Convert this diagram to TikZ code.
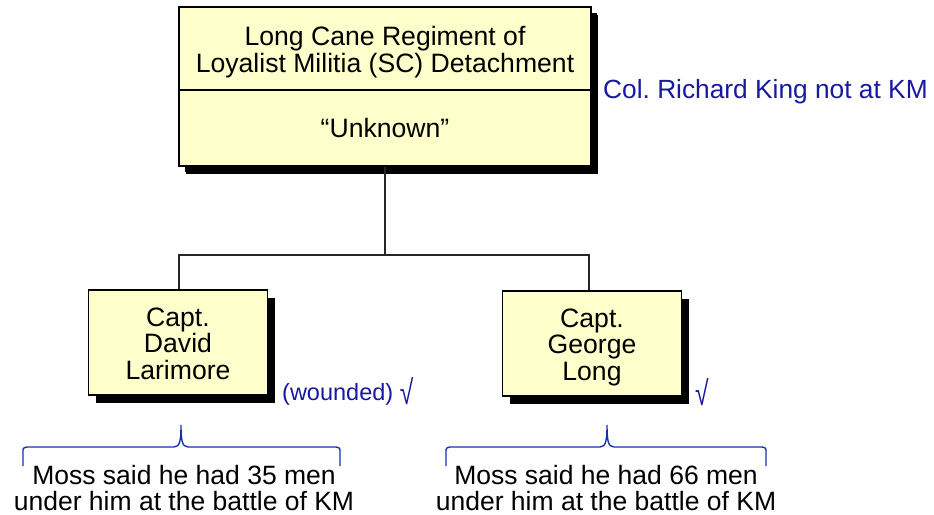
\documentclass[tikz,border=0pt]{standalone}
\usepackage{fontspec}
\setmainfont{Liberation Sans}
\usetikzlibrary{shadows}
\definecolor{boxfill}{RGB}{255,255,204}
\definecolor{noteblue}{RGB}{24,24,160}
\definecolor{braceblue}{RGB}{20,50,170}
\frenchspacing
\newcommand{\bigcheck}{\raisebox{-4pt}{\scalebox{1.05}[1.45]{√}}}
\begin{document}
\begin{tikzpicture}[x=1pt,y=-1pt,
  orgbox/.style={draw=black, line width=1.3pt, fill=boxfill, inner sep=0pt,
     drop shadow={shadow xshift=7pt, shadow yshift=-8pt, fill=black, opacity=1}},
  boxtext/.style={inner sep=0pt, align=center, font=\fontsize{26.6}{26.5}\selectfont},
  note/.style={inner sep=0pt, text=noteblue, font=\fontsize{26.3}{27}\selectfont},
  smallnote/.style={inner sep=0pt, text=noteblue, font=\fontsize{23.5}{26}\selectfont},
  link/.style={draw=black!85, line width=1.6pt},
  bracepath/.style={draw=braceblue, line width=1.4pt},
  undertext/.style={inner sep=0pt, align=center, font=\fontsize{26.5}{25.5}\selectfont}]
\useasboundingbox (0,0) rectangle (934,514);
% top box
\node[orgbox, drop shadow={shadow xshift=6pt, shadow yshift=-6pt, fill=black, opacity=1},
  minimum width=412pt, minimum height=159pt] (top) at (385,86.5) {};
\draw[line width=1.2pt] (top.west |- 0,90) -- (top.east |- 0,90);
\node[boxtext, anchor=base, font=\fontsize{26.6}{27}\selectfont] (toptitle) at (385,72) {Long Cane Regiment of\\Loyalist Militia (SC) Detachment};
\node[boxtext, anchor=base] (topsub) at (385,137) {“Unknown”};
\node[note, anchor=base west] (colnote) at (603,98) {Col. Richard King not at KM};
% small boxes
\node[orgbox, minimum width=179pt, minimum height=105pt] (L) at (178,342.5) {};
\node[boxtext, anchor=base] (Ltext) at (178,379) {Capt.\\David\\Larimore};
\node[orgbox, minimum width=179pt, minimum height=105pt] (R) at (592,343.5) {};
\node[boxtext, anchor=base] (Rtext) at (592,380) {Capt.\\George\\Long};
\node[smallnote, anchor=base west] (wnd) at (282,400) {(wounded) \bigcheck};
\node[smallnote, anchor=base west] (chk) at (695,401) {\bigcheck};
% connectors
\coordinate (j) at (top.south |- 0,255);
\draw[link] (top.south) -- (j);
\draw[link] (L.north -| 179,0) |- (j) -| (R.north -| 589,0);
% braces
\coordinate (lb) at (23,466);
\coordinate (rb) at (340,466);
\coordinate (lt) at (181,425);
\draw[bracepath] (lb) -- (23,452) .. controls (23,448) .. (27,447) -- (174,447)
  .. controls (180,447) and (181,440) .. (lt) .. controls (181,440) and (182,447) .. (188,447)
  -- (336,447) .. controls (340,448) .. (340,452) -- (rb);
\coordinate (lb2) at (446,466);
\coordinate (rb2) at (766,466);
\coordinate (rt) at (607,425);
\draw[bracepath] (lb2) -- (446,452) .. controls (446,448) .. (450,447) -- (600,447)
  .. controls (606,447) and (607,440) .. (rt) .. controls (607,440) and (608,447) .. (614,447)
  -- (762,447) .. controls (766,448) .. (766,452) -- (rb2);
\node[undertext, anchor=base] (Lnote) at (184,510) {Moss said he had 35 men\\under him at the battle of KM};
\node[undertext, anchor=base] (Rnote) at (606,510) {Moss said he had 66 men\\under him at the battle of KM};
\end{tikzpicture}
\end{document}
